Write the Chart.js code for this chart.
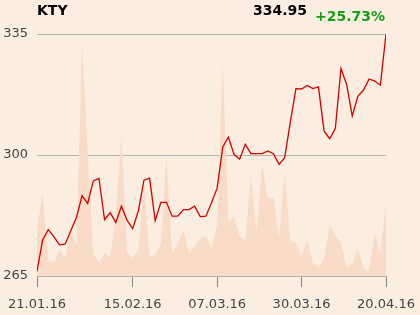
<!DOCTYPE html>
<html lang="en">
<head>
    <meta charset="UTF-8">
    <title>KTY</title>
    <script src="https://cdn.jsdelivr.net/npm/chart.js@4"></script>
    <style>
        body {
            margin: 0;
            background: #fcede1;
            font-family: "DejaVu Sans", sans-serif;
        }

        #wrap {
            position: relative;
            width: 420px;
            height: 315px;
        }

        .head {
            position: absolute;
            font-weight: bold;
            font-size: 14px;
            line-height: 16px;
            white-space: nowrap;
        }

        #name { left: 37px; top: 2px; color: #000; }
        #last { right: 113px; top: 2px; color: #000; }
        #change { right: 35px; top: 8px; color: #169d16; }
    </style>
</head>
<body>
    <div id="wrap">
        <canvas id="kty"></canvas>
        <div class="head" id="name">KTY</div>
        <div class="head" id="last">334.95</div>
        <div class="head" id="change">+25.73%</div>
    </div>

    <script>
        // trading days 21.01.16 - 20.04.16
        const dates = [
            '21.01.16', '22.01.16', '25.01.16', '26.01.16', '27.01.16', '28.01.16', '29.01.16',
            '01.02.16', '02.02.16', '03.02.16', '04.02.16', '05.02.16',
            '08.02.16', '09.02.16', '10.02.16', '11.02.16', '12.02.16',
            '15.02.16', '16.02.16', '17.02.16', '18.02.16', '19.02.16',
            '22.02.16', '23.02.16', '24.02.16', '25.02.16', '26.02.16',
            '29.02.16', '01.03.16', '02.03.16', '03.03.16', '04.03.16',
            '07.03.16', '08.03.16', '09.03.16', '10.03.16', '11.03.16',
            '14.03.16', '15.03.16', '16.03.16', '17.03.16', '18.03.16',
            '21.03.16', '22.03.16', '23.03.16', '24.03.16',
            '29.03.16', '30.03.16', '31.03.16', '01.04.16',
            '04.04.16', '05.04.16', '06.04.16', '07.04.16', '08.04.16',
            '11.04.16', '12.04.16', '13.04.16', '14.04.16', '15.04.16',
            '18.04.16', '19.04.16', '20.04.16'
        ];

        const prices = [
            266.4, 275.4, 278.4, 276.3, 274.0, 274.2, 278.1, 281.9, 288.2, 286.0,
            292.5, 293.2, 281.3, 283.3, 280.5, 285.2, 281.1, 278.7, 283.8, 292.7,
            293.3, 281.0, 286.3, 286.3, 282.3, 282.3, 284.2, 284.2, 285.2, 282.2,
            282.3, 286.2, 290.4, 302.3, 305.2, 300.2, 298.8, 303.1, 300.4, 300.4,
            300.4, 301.2, 300.4, 297.3, 299.2, 309.5, 319.2, 319.1, 320.1, 319.2,
            319.7, 306.9, 304.7, 307.7, 325.0, 320.4, 311.3, 317.0, 318.8, 322.0,
            321.4, 320.2, 334.95
        ];

        // volume, thousands of shares (estimated)
        const volumes = [
            48, 83, 15, 13, 26, 18, 46, 30, 233, 124,
            22, 13, 23, 19, 61, 141, 24, 18, 25, 94,
            19, 21, 32, 120, 22, 32, 46, 23, 29, 38,
            39, 29, 51, 216, 55, 59, 40, 35, 100, 43,
            111, 78, 78, 38, 104, 35, 33, 20, 36, 13,
            8, 18, 51, 40, 34, 8, 12, 27, 8, 5,
            44, 22, 74
        ];

        const tickDates = ['21.01.16', '15.02.16', '07.03.16', '30.03.16', '20.04.16'];
        const priceTicks = [265, 300, 335];

        const tickIdx = tickDates.map(d => dates.indexOf(d));
        const gray = '#b3b3b3';
        const txt = '#444';

        new Chart(document.getElementById('kty'), {
            type: 'line',
            data: {
                datasets: [{
                    label: 'Price',
                    data: prices.map((v, i) => ({ x: i, y: v })),
                    borderColor: '#d40000',
                    borderWidth: 1.3,
                    pointRadius: 0,
                    fill: false,
                    yAxisID: 'y',
                    order: 1
                }, {
                    label: 'Volume',
                    data: volumes.map((v, i) => ({ x: i, y: v })),
                    backgroundColor: '#f8dcc7',
                    borderWidth: 0,
                    pointRadius: 0,
                    fill: 'origin',
                    yAxisID: 'vol',
                    order: 2
                }]
            },
            options: {
                responsive: true,
                maintainAspectRatio: false,
                animation: false,
                layout: { padding: { top: 34, right: 34, left: 0, bottom: 0 } },
                plugins: {
                    legend: { display: false },
                    tooltip: { enabled: false }
                },
                scales: {
                    x: {
                        type: 'linear',
                        min: 0,
                        max: dates.length - 1,
                        afterBuildTicks: s => { s.ticks = tickIdx.map(v => ({ value: v })); },
                        afterFit: s => {
                            s.height = 39;
                            s.paddingLeft = 0;
                            s.paddingRight = 0;
                        },
                        grid: {
                            drawOnChartArea: false,
                            drawTicks: true,
                            tickLength: 11,
                            color: '#888'
                        },
                        border: { display: true, color: gray },
                        ticks: {
                            autoSkip: false,
                            maxRotation: 0,
                            padding: 10,
                            color: txt,
                            font: { family: 'DejaVu Sans', size: 13 },
                            callback: v => dates[v]
                        }
                    },
                    y: {
                        min: 265,
                        max: 335,
                        afterBuildTicks: s => { s.ticks = priceTicks.map(v => ({ value: v })); },
                        afterFit: s => {
                            s.width = 37;
                            s.paddingTop = 0;
                            s.paddingBottom = 0;
                        },
                        grid: { color: gray, drawTicks: false },
                        border: { display: false },
                        ticks: {
                            padding: 9,
                            color: txt,
                            font: { family: 'DejaVu Sans', size: 13 }
                        }
                    },
                    vol: {
                        display: false,
                        min: 0,
                        max: 242
                    }
                }
            }
        });
    </script>
</body>
</html>
